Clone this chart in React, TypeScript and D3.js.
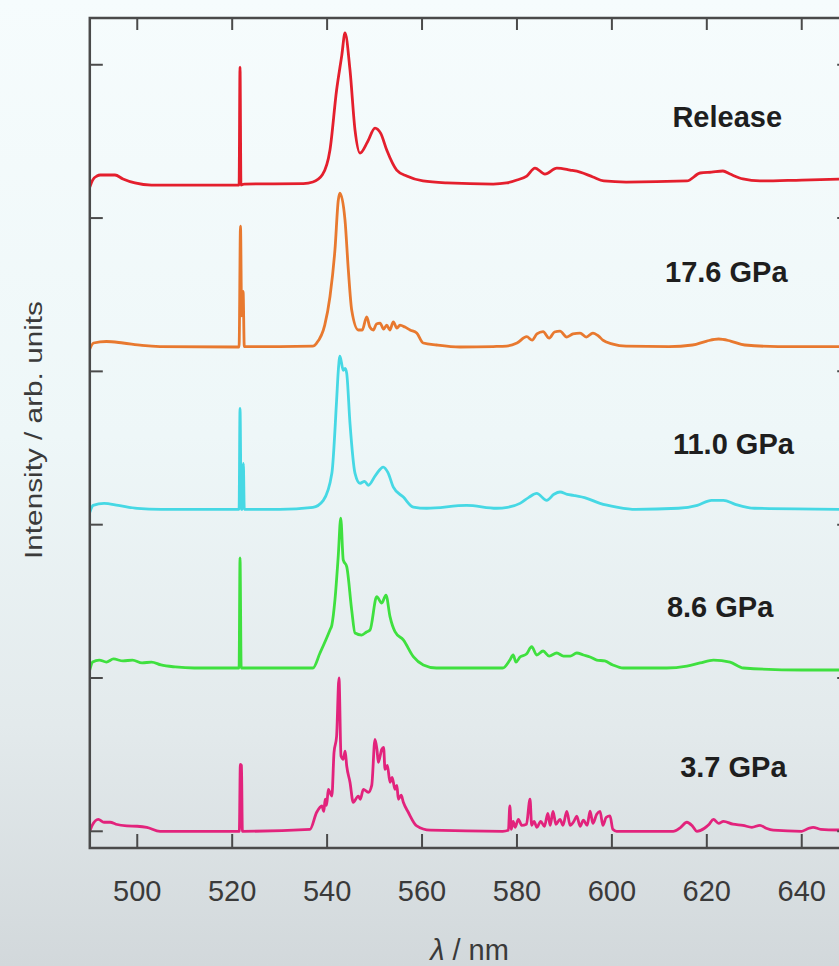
import React from "react";
import * as d3 from "d3";

type Pt = [number, number];

// Photoluminescence spectra, normalised to the strongest band, in order of stacking
const seriesNames = ["3.7 GPa", "8.6 GPa", "11.0 GPa", "17.6 GPa", "Release"];
const seriesColors = ["#e2237c", "#3fe03f", "#46d8e4", "#e8792f", "#e41f2d"];
const seriesOffsets = [0, 1.065, 2.1, 3.162, 4.222];

const spec37: Pt[] = [
  [490.0, 0], [490.5, 0.039], [491.8, 0.078], [493, 0.059], [494.3, 0.059], [495.5, 0.046],
  [497.8, 0.035], [500, 0.033], [502, 0.026], [504.8, 0], [521.5, 0], [521.72, 0.437],
  [521.95, 0.43], [522.15, 0], [536.4, 0.013], [537.8, 0.124], [538.9, 0.165], [539.3, 0.13],
  [539.6, 0.209], [539.9, 0.17], [540.25, 0.274], [541.0, 0.23], [541.45, 0.511], [542.0, 0.62],
  [542.5, 1.0], [542.93, 0.491], [543.4, 0.47], [543.8, 0.522], [544.13, 0.426], [544.82, 0.32],
  [545.5, 0.189], [546.57, 0.23], [547.0, 0.209], [547.63, 0.274], [548.68, 0.254], [549.4, 0.3],
  [550.09, 0.6], [550.5, 0.535], [550.79, 0.45], [551.51, 0.535], [551.9, 0.548], [552.2, 0.404],
  [552.7, 0.43], [553.25, 0.32], [553.7, 0.352], [554.3, 0.274], [554.7, 0.3], [555.0, 0.209],
  [555.6, 0.235], [556.06, 0.189], [557.1, 0.124], [558.88, 0.035], [561.7, 0.007], [577, 0],
  [578.2, 0.007], [578.5, 0.165], [578.8, 0.013], [579.2, 0.065], [579.6, 0.026], [580.3, 0.078],
  [581, 0.039], [582, 0.046], [582.75, 0.209], [583.1, 0.039], [583.6, 0.065], [584.2, 0.026],
  [585, 0.065], [585.8, 0.033], [586.5, 0.117], [587, 0.039], [587.6, 0.13], [588.2, 0.046],
  [589.07, 0.078], [589.7, 0.039], [590.5, 0.13], [591.2, 0.039], [592, 0.065], [592.6, 0.098],
  [593.3, 0.033], [594, 0.072], [594.8, 0.039], [595.4, 0.132], [596, 0.052], [596.8, 0.111],
  [597.5, 0.13], [598.1, 0.039], [598.8, 0.091], [599.6, 0.1], [600.2, 0.013], [601, 0],
  [612.9, 0], [614.5, 0.026], [615.8, 0.059], [617, 0.033], [617.9, 0], [619.5, 0.02],
  [620.5, 0.046], [621.4, 0.078], [622.5, 0.052], [623.5, 0.065], [625.5, 0.046], [627.6, 0.039],
  [629.5, 0.026], [631.2, 0.039], [632.5, 0.02], [634, 0.007], [640, 0], [641.5, 0.02],
  [642.4, 0.026], [644, 0.013], [650, 0.007],
];

const spec86: Pt[] = [
  [490.0, -0.013], [490.6, 0.039], [492, 0.052], [493.5, 0.039], [495, 0.059], [497, 0.046],
  [499, 0.052], [501, 0.033], [503, 0.039], [505, 0.02], [508, 0.007], [512, 0], [521.45, 0],
  [521.65, 0.718], [521.9, 0], [537.0, 0], [538.5, 0.098], [540.6, 0.248], [541.0, 0.28],
  [541.65, 0.444], [542.36, 0.737], [542.87, 0.978], [543.4, 0.705], [544.13, 0.661],
  [545.18, 0.378], [545.88, 0.228], [547.29, 0.215], [548.3, 0.235], [549.04, 0.248],
  [550.45, 0.465], [551.51, 0.424], [552.4, 0.476], [553.25, 0.335], [554.3, 0.237],
  [556.06, 0.183], [558.16, 0.074], [560.27, 0.02], [563, 0], [577, 0], [578.5, 0.052],
  [579.2, 0.085], [579.8, 0.039], [580.64, 0.072], [582, 0.091], [583.1, 0.139], [584.16, 0.085],
  [585.5, 0.111], [586.8, 0.078], [588.38, 0.098], [589.8, 0.078], [591.2, 0.078], [592.6, 0.098],
  [594.0, 0.085], [595.4, 0.072], [596.8, 0.052], [598.5, 0.046], [600.2, 0.02], [602.35, 0],
  [611.55, 0], [615.8, 0.013], [618.6, 0.033], [621.4, 0.052], [624.9, 0.039], [627.7, 0],
  [640, -0.013], [650, -0.013],
];

const spec110: Pt[] = [
  [490.0, -0.02], [490.7, 0.026], [493, 0.039], [496, 0.026], [500, 0.007], [505, 0],
  [521.45, 0], [521.65, 0.659], [521.9, 0], [522.15, 0], [522.35, 0.3], [522.55, 0], [530, 0],
  [537.0, 0.013], [539.2, 0.059], [541.0, 0.235], [542.0, 0.711], [542.36, 0.907], [542.7, 1.0],
  [543.4, 0.907], [543.8, 0.92], [544.13, 0.887], [544.82, 0.561], [545.88, 0.235],
  [546.93, 0.17], [547.9, 0.183], [548.68, 0.157], [550.2, 0.222], [551.84, 0.276],
  [552.8, 0.241], [553.95, 0.145], [556.06, 0.08], [558.16, 0.015], [561, 0.007], [569.4, 0.026],
  [575.7, 0.007], [578, 0.013], [580.64, 0.039], [582.5, 0.078], [584.16, 0.104], [586.27, 0.059],
  [587.8, 0.098], [589.07, 0.113], [590.6, 0.098], [591.9, 0.091], [594.7, 0.072], [597.5, 0.039],
  [601.0, 0.015], [605, 0], [614, 0.007], [618, 0.026], [621, 0.059], [623.5, 0.059],
  [626, 0.033], [630, 0.007], [650, 0],
];

const spec176: Pt[] = [
  [490.0, -0.016], [490.8, 0.023], [493.5, 0.033], [497, 0.023], [501, 0.007], [504.8, 0],
  [521.45, -0.003], [521.75, 0.786], [522.0, 0.2], [522.3, 0.36], [522.55, 0], [530, 0],
  [537.0, 0.003], [537.8, 0.023], [539.5, 0.14], [540.6, 0.325], [541.65, 0.63], [542.36, 0.956],
  [542.7, 1.0], [543.77, 0.825], [544.47, 0.5], [545.18, 0.238], [546.57, 0.108], [547.4, 0.108],
  [548.34, 0.194], [549.0, 0.127], [549.73, 0.108], [550.4, 0.147], [551.16, 0.153],
  [551.9, 0.114], [552.56, 0.14], [553.2, 0.108], [553.95, 0.16], [554.7, 0.12], [555.36, 0.14],
  [556.4, 0.127], [557.47, 0.108], [558.88, 0.088], [560.27, 0.023], [563.1, 0.01],
  [568, -0.003], [575, 0], [577.8, 0.003], [580, 0.023], [582.06, 0.064], [583.2, 0.042],
  [584.2, 0.082], [585.5, 0.097], [586.8, 0.055], [587.9, 0.095], [589.07, 0.101], [590.5, 0.062],
  [591.8, 0.082], [593.3, 0.088], [594.6, 0.062], [596.0, 0.088], [597.2, 0.068], [598.1, 0.042],
  [600.2, 0.016], [603, 0.003], [612, 0], [617, 0.01], [620, 0.036], [622.5, 0.049],
  [625, 0.036], [628, 0.01], [635, 0], [650, 0],
];

const specRelease: Pt[] = [
  [490.0, -0.02], [490.6, 0.026], [491.5, 0.052], [492.2, 0.059], [495.3, 0.059], [497.0, 0.033],
  [499.5, 0.007], [503, -0.007], [521.45, -0.007], [521.65, 0.763], [521.85, -0.007],
  [522.5, 0], [535, 0.003], [537.0, 0.013], [539.0, 0.06], [540.6, 0.222], [542.0, 0.613],
  [543.1, 0.841], [543.77, 0.985], [544.82, 0.744], [545.88, 0.352], [546.93, 0.202],
  [548.5, 0.274], [550.09, 0.365], [551.3, 0.33], [552.56, 0.222], [554.66, 0.091],
  [556.77, 0.052], [560.2, 0.02], [565.2, 0.007], [575, 0], [577.8, 0.007], [580.0, 0.026],
  [582.06, 0.052], [583.8, 0.104], [585.9, 0.065], [588.4, 0.104], [591.2, 0.091], [593.3, 0.078],
  [596, 0.046], [598.3, 0.02], [603, 0.013], [615.8, 0.02], [618.6, 0.072], [621, 0.078],
  [623.4, 0.085], [624.9, 0.065], [627.6, 0.033], [631.2, 0.02], [640, 0.026], [650, 0.033],
];

const seriesData = [spec37, spec86, spec110, spec176, specRelease];

// where each pressure label sits: wavelength of its centre, height above its own baseline
const labelAnchors: Pt[] = [
  [625.6, 0.354], [622.8, 0.333], [625.6, 0.361], [624.1, 0.421], [624.3, 0.372],
];

const xTicks = [500, 520, 540, 560, 580, 600, 620, 640];
const yTicks = [0, 1, 2, 3, 4, 5];

const W = 839;
const H = 966;
const left = 89.8;
const right = 849.2;
const top = 18;
const bottom = 848;

export default function App() {
  const x = d3.scaleLinear().domain([490, 650]).range([left, right]);
  const y = d3.scaleLinear().domain([-0.109, 5.305]).range([bottom, top]);

  const axisColor = "#4a4a4a";
  const font = "'Liberation Sans', Arial, Helvetica, sans-serif";

  return (
    <svg
      width={W}
      height={H}
      style={{ position: "absolute", left: 0, top: 0, display: "block" }}
    >
      <defs>
        <linearGradient id="bg" x1="0" y1="0" x2="0" y2="1">
          <stop offset="0" stopColor="#f6fcfd" />
          <stop offset="0.45" stopColor="#eef7f8" />
          <stop offset="0.75" stopColor="#e3eaec" />
          <stop offset="1" stopColor="#d2d8db" />
        </linearGradient>
        <clipPath id="plotClip">
          <rect x={left} y={top} width={right - left} height={bottom - top} />
        </clipPath>
      </defs>
      <rect x={0} y={0} width={W} height={H} fill="url(#bg)" />

      <g clipPath="url(#plotClip)">
        {seriesData.map((pts, i) => {
          const off = seriesOffsets[i];
          const line = d3
            .line<Pt>()
            .x((d) => x(d[0]))
            .y((d) => y(off + d[1]))
            .curve(d3.curveMonotoneX);
          return (
            <path
              key={seriesNames[i]}
              d={line(pts) || ""}
              fill="none"
              stroke={seriesColors[i]}
              strokeWidth={2.8}
              strokeLinejoin="round"
              strokeLinecap="round"
            />
          );
        })}
      </g>

      {/* frame and inward ticks */}
      <rect
        x={left}
        y={top}
        width={right - left}
        height={bottom - top}
        fill="none"
        stroke={axisColor}
        strokeWidth={2.5}
      />
      {xTicks.map((t) => (
        <g key={"xt" + t} stroke={axisColor} strokeWidth={2}>
          <line x1={x(t)} x2={x(t)} y1={bottom} y2={bottom - 14} />
          <line x1={x(t)} x2={x(t)} y1={top} y2={top + 12} />
        </g>
      ))}
      {yTicks.map((t) => (
        <g key={"yt" + t} stroke={axisColor} strokeWidth={2}>
          <line x1={left} x2={left + 13} y1={y(t)} y2={y(t)} />
          <line x1={right} x2={right - 12} y1={y(t)} y2={y(t)} />
        </g>
      ))}

      {xTicks.map((t) => (
        <text
          key={"xl" + t}
          x={x(t)}
          y={901}
          textAnchor="middle"
          fontFamily={font}
          fontSize={29}
          fill="#3a3a3a"
        >
          {t}
        </text>
      ))}

      <text
        x={(left + right) / 2}
        y={960}
        textAnchor="middle"
        fontFamily={font}
        fontSize={29}
        fill="#3a3a3a"
      >
        <tspan fontStyle="italic">λ</tspan> / nm
      </text>

      <text
        transform={`translate(42, 430) rotate(-90)`}
        textAnchor="middle"
        fontFamily={font}
        fontSize={23}
        textLength={258}
        lengthAdjust="spacingAndGlyphs"
        fill="#3a3a3a"
      >
        Intensity / arb. units
      </text>

      {seriesNames.map((name, i) => (
        <text
          key={"lab" + name}
          x={x(labelAnchors[i][0])}
          y={y(seriesOffsets[i] + labelAnchors[i][1])}
          textAnchor="middle"
          fontFamily={font}
          fontWeight="bold"
          fontSize={29}
          fill="#1e1e1e"
        >
          {name}
        </text>
      ))}
    </svg>
  );
}
